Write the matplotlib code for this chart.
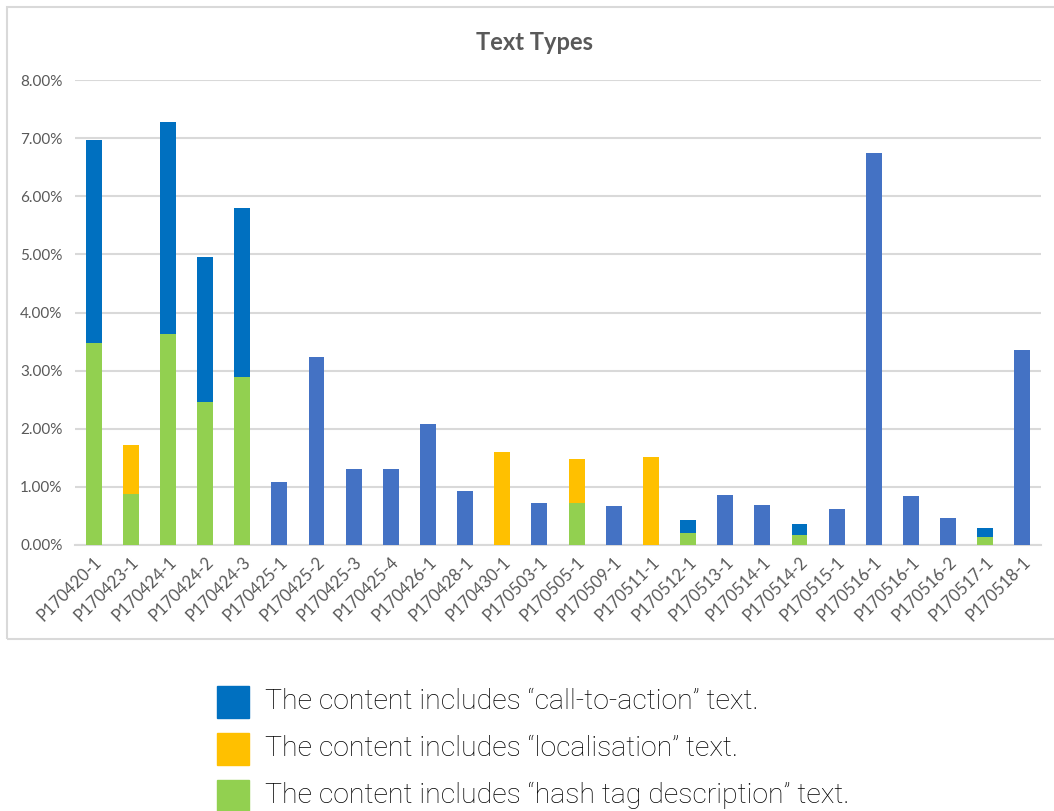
import matplotlib
matplotlib.use("Agg")
import matplotlib.pyplot as plt
from matplotlib.patches import Rectangle
import numpy as np

# Per-campaign share of posts by text type (percent)
categories = [
    "P170420-1", "P170423-1", "P170424-1", "P170424-2", "P170424-3",
    "P170425-1", "P170425-2", "P170425-3", "P170425-4", "P170426-1",
    "P170428-1", "P170430-1", "P170503-1", "P170505-1", "P170509-1",
    "P170511-1", "P170512-1", "P170513-1", "P170514-1", "P170514-2",
    "P170515-1", "P170516-1", "P170516-1", "P170516-2", "P170517-1",
    "P170518-1",
]
hashtag = [3.48, 0.87, 3.63, 2.46, 2.89, 0, 0, 0, 0, 0,
           0, 0, 0, 0.72, 0, 0, 0.20, 0, 0, 0.17,
           0, 0, 0, 0, 0.14, 0]
call_to_action = [3.49, 0, 3.65, 2.50, 2.91, 0, 0, 0, 0, 0,
                  0, 0, 0, 0, 0, 0, 0.23, 0, 0, 0.19,
                  0, 0, 0, 0, 0.15, 0]
localisation = [0, 0.85, 0, 0, 0, 0, 0, 0, 0, 0,
                0, 1.60, 0, 0.76, 0, 1.51, 0, 0, 0, 0,
                0, 0, 0, 0, 0, 0]
other = [0, 0, 0, 0, 0, 1.08, 3.24, 1.31, 1.31, 2.08,
         0.93, 0, 0.72, 0, 0.67, 0, 0, 0.86, 0.69, 0,
         0.62, 6.75, 0.84, 0.46, 0, 3.36]

legend_labels = [
    "The content includes \u201ccall-to-action\u201d text.",
    "The content includes \u201clocalisation\u201d text.",
    "The content includes \u201chash tag description\u201d text.",
]
yticks = [0, 1, 2, 3, 4, 5, 6, 7, 8]

C_CTA = "#0070C0"
C_LOC = "#FFC000"
C_HASH = "#92D050"
C_OTHER = "#4472C4"
GRID = "#D9D9D9"
TXT = "#595959"

W, H = 1054, 811
fig = plt.figure(figsize=(W / 100, H / 100), dpi=100)

def fx(px):
    return px / W

def fy(py):
    return 1 - py / H

# chart frame
fig.patches.append(Rectangle((fx(7), fy(639)), fx(1100), fy(7) - fy(639),
                             transform=fig.transFigure, fill=False,
                             edgecolor=GRID, linewidth=1.5))

ax = fig.add_axes([fx(75), fy(545), fx(1041) - fx(75), fy(80) - fy(545)])
x = np.arange(len(categories))
w = 0.43
hashtag = np.array(hashtag)
call_to_action = np.array(call_to_action)
localisation = np.array(localisation)
other = np.array(other)

ax.bar(x, hashtag, w, color=C_HASH, zorder=3)
ax.bar(x, call_to_action, w, bottom=hashtag, color=C_CTA, zorder=3)
ax.bar(x, localisation, w, bottom=hashtag, color=C_LOC, zorder=3)
ax.bar(x, other, w, color=C_OTHER, zorder=3)

ax.set_xlim(-0.5, len(categories) - 0.5)
ax.set_ylim(0, 8)
ax.set_yticks(yticks)
ax.set_yticklabels([f"{v:.2f}%" for v in yticks])
ax.yaxis.grid(True, color=GRID, linewidth=1.5, zorder=0)
ax.set_axisbelow(True)
for s in ["top", "right", "left"]:
    ax.spines[s].set_visible(False)
ax.spines["bottom"].set_color(GRID)
ax.spines["bottom"].set_linewidth(1.5)
ax.tick_params(axis="both", length=0, labelcolor=TXT)
ax.tick_params(axis="y", pad=9, labelsize=11)
ax.tick_params(axis="x", pad=6, labelsize=12)
ax.set_xticks(x)
ax.set_xticklabels(categories, rotation=45, ha="right", va="top",
                   rotation_mode="anchor", family="Lato")
for lab in ax.get_yticklabels():
    lab.set_family("Lato")

fig.text(fx(534), fy(42), "Text Types", ha="center", va="center",
         fontsize=17, fontweight="bold", color=TXT, family="Lato")

# legend below the chart frame
rows = [(C_CTA, legend_labels[0], 686), (C_LOC, legend_labels[1], 733),
        (C_HASH, legend_labels[2], 780)]
for col, label, top in rows:
    fig.patches.append(Rectangle((fx(217), fy(top + 32)), fx(32), fy(0) - fy(32),
                                 transform=fig.transFigure, color=col))
    fig.text(fx(265), fy(top + 23), label, ha="left", va="baseline",
             fontsize=20.5, color="#000000", family="Roboto",
             fontweight="light")

fig.savefig("out.png", dpi=100)
